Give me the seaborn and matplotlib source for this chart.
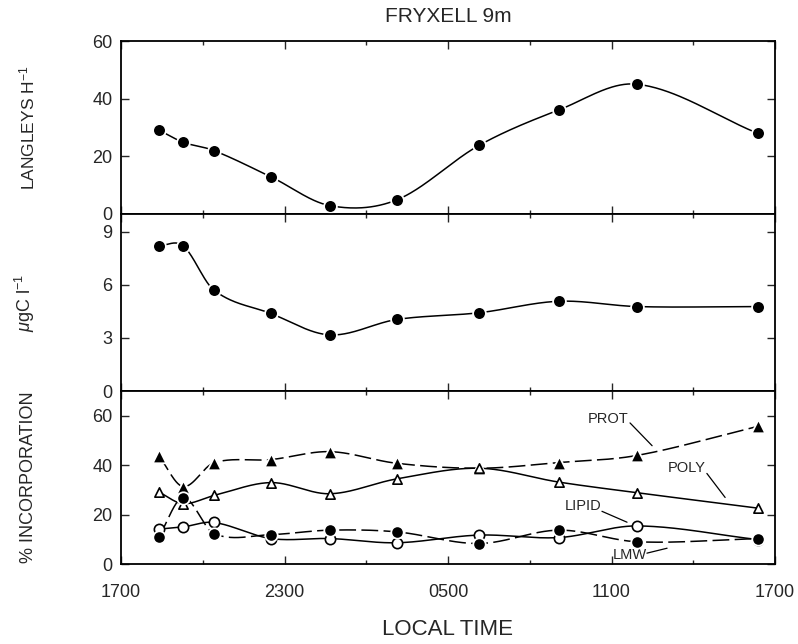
import numpy as np
import pandas as pd
import matplotlib
matplotlib.use("Agg")
import matplotlib.pyplot as plt
from matplotlib.ticker import MultipleLocator, FixedLocator
import seaborn as sns

# ---------------- data ----------------
# sampling times, hours after 1700 local time
hours = [1.39, 2.28, 3.41, 5.50, 7.67, 10.12, 13.14, 16.07, 18.95, 23.36]
langleys = [29.1, 24.9, 22.0, 12.9, 2.9, 4.9, 23.8, 36.1, 45.0, 28.0]
ugc = [8.2, 8.2, 5.7, 4.38, 3.17, 4.04, 4.42, 5.07, 4.77, 4.77]
prot = [43.8, 31.4, 41.0, 42.3, 45.5, 40.8, 38.8, 41.1, 44.0, 55.7]
poly = [29.2, 24.5, 27.8, 33.0, 28.5, 34.5, 38.8, 33.2, 28.9, 22.7]
lipid = [14.2, 15.1, 16.9, 10.4, 10.4, 8.7, 11.8, 10.8, 15.5, 10.0]
lmw = [11.1, 26.9, 12.4, 12.0, 13.8, 13.1, 8.4, 13.8, 9.1, 10.4]
xtick_pos = [0, 6, 12, 18, 24]
xtick_labels = ["1700", "2300", "0500", "1100", "1700"]

sns.set_theme(style="ticks")
plt.rcParams["font.family"] = ["Liberation Sans", "DejaVu Sans"]
plt.rcParams["mathtext.fontset"] = "custom"
plt.rcParams["mathtext.rm"] = "Liberation Sans"
plt.rcParams["mathtext.it"] = "Liberation Sans:italic"


def smooth_curve(x, y, n=60):
    """Hermite curve through the points with finite-difference tangents."""
    x = np.asarray(x, float)
    y = np.asarray(y, float)
    k = len(x)
    m = np.zeros(k)
    m[0] = (y[1] - y[0]) / (x[1] - x[0])
    m[-1] = (y[-1] - y[-2]) / (x[-1] - x[-2])
    for i in range(1, k - 1):
        m[i] = (y[i + 1] - y[i - 1]) / (x[i + 1] - x[i - 1])
    xs_all, ys_all = [], []
    for i in range(k - 1):
        h = x[i + 1] - x[i]
        t = np.linspace(0, 1, n)
        h00 = 2 * t**3 - 3 * t**2 + 1
        h10 = t**3 - 2 * t**2 + t
        h01 = -2 * t**3 + 3 * t**2
        h11 = t**3 - t**2
        xs_all.append(x[i] + t * h)
        ys_all.append(h00 * y[i] + h10 * h * m[i] + h01 * y[i + 1] + h11 * h * m[i + 1])
    return pd.DataFrame({"x": np.concatenate(xs_all), "y": np.concatenate(ys_all)})


fig = plt.figure(figsize=(7.98, 6.44), dpi=100)
L, R = 121 / 798, 775 / 798
H = 644
bounds = [(41, 214), (214, 391), (391, 564.3)]
axes = []
for top, bot in bounds:
    ax = fig.add_axes([L, 1 - bot / H, R - L, (bot - top) / H])
    axes.append(ax)

ax1, ax2, ax3 = axes


def draw(ax, yvals, marker, filled, dashes=None, ms=70):
    sp = smooth_curve(hours, yvals)
    sns.lineplot(data=sp, x="x", y="y", ax=ax, color="black", lw=1.1,
                 sort=False, estimator=None, legend=False)
    if dashes is not None:
        ax.lines[-1].set_dashes(dashes)
    df = pd.DataFrame({"x": hours, "y": yvals})
    sns.scatterplot(data=df, x="x", y="y", ax=ax, marker=marker, s=ms,
                    color="black" if filled else "white",
                    edgecolor="black" if not filled else "white",
                    linewidth=1.2 if not filled else 1.3, zorder=5, legend=False)


draw(ax1, langleys, "o", True, ms=85)
draw(ax2, ugc, "o", True, ms=85)
draw(ax3, prot, "^", True, dashes=(11, 3.5), ms=95)
draw(ax3, poly, "^", False, ms=45)
draw(ax3, lipid, "o", False, ms=55)
draw(ax3, lmw, "o", True, dashes=(11, 3.5), ms=80)

ax1.set_ylim(0, 60)
ax1.set_yticks([0, 20, 40, 60])
ax2.set_ylim(0, 10)
ax2.set_yticks([0, 3, 6, 9])
ax3.set_ylim(0, 70)
ax3.set_yticks([0, 20, 40, 60])

for ax in axes:
    ax.set_xlim(0, 24)
    ax.xaxis.set_major_locator(FixedLocator(xtick_pos))
    ax.xaxis.set_minor_locator(MultipleLocator(3))
    ax.tick_params(axis="both", which="major", direction="in", length=6,
                   width=1.0, top=True, right=True, labelsize=13, pad=6)
    ax.tick_params(axis="x", which="minor", direction="in", length=3,
                   width=1.0, top=True, bottom=True)
    for s in ax.spines.values():
        s.set_linewidth(1.3)
        s.set_color("black")
    ax.set_xlabel("")
    if ax is not ax3:
        ax.set_xticklabels([])

ax3.set_xticklabels(xtick_labels)
ax3.tick_params(axis="x", which="major", pad=14)
ax3.set_xlabel("LOCAL TIME", fontsize=16, labelpad=13)

ax1.set_ylabel("LANGLEYS H$^{-1}$", fontsize=12.5)
ax2.set_ylabel("$\\mathit{\\mu}$gC l$^{-1}$", fontsize=13)
ax3.set_ylabel("% INCORPORATION", fontsize=13)
for ax in axes:
    ax.yaxis.set_label_coords(-0.128, 0.5)

fig.text((L + R) / 2, 1 - 16 / H, "FRYXELL 9m", ha="center", va="center",
         fontsize=15)

# series labels with leader lines
ann = [("PROT", (17.87, 58.8), (18.68, 57.1), (19.49, 47.9)),
       ("POLY", (20.77, 38.7), (21.5, 36.7), (22.17, 27.0)),
       ("LIPID", (16.95, 23.4), (17.65, 21.4), (18.57, 17.0)),
       ("LMW", (18.68, 3.7), (19.3, 4.5), (20.04, 6.5))]
for txt, tpos, p0, p1 in ann:
    ax3.text(tpos[0], tpos[1], txt, ha="center", va="center", fontsize=10.5)
    ax3.plot([p0[0], p1[0]], [p0[1], p1[1]], color="black", lw=0.9)

fig.savefig("out.png", dpi=100)
